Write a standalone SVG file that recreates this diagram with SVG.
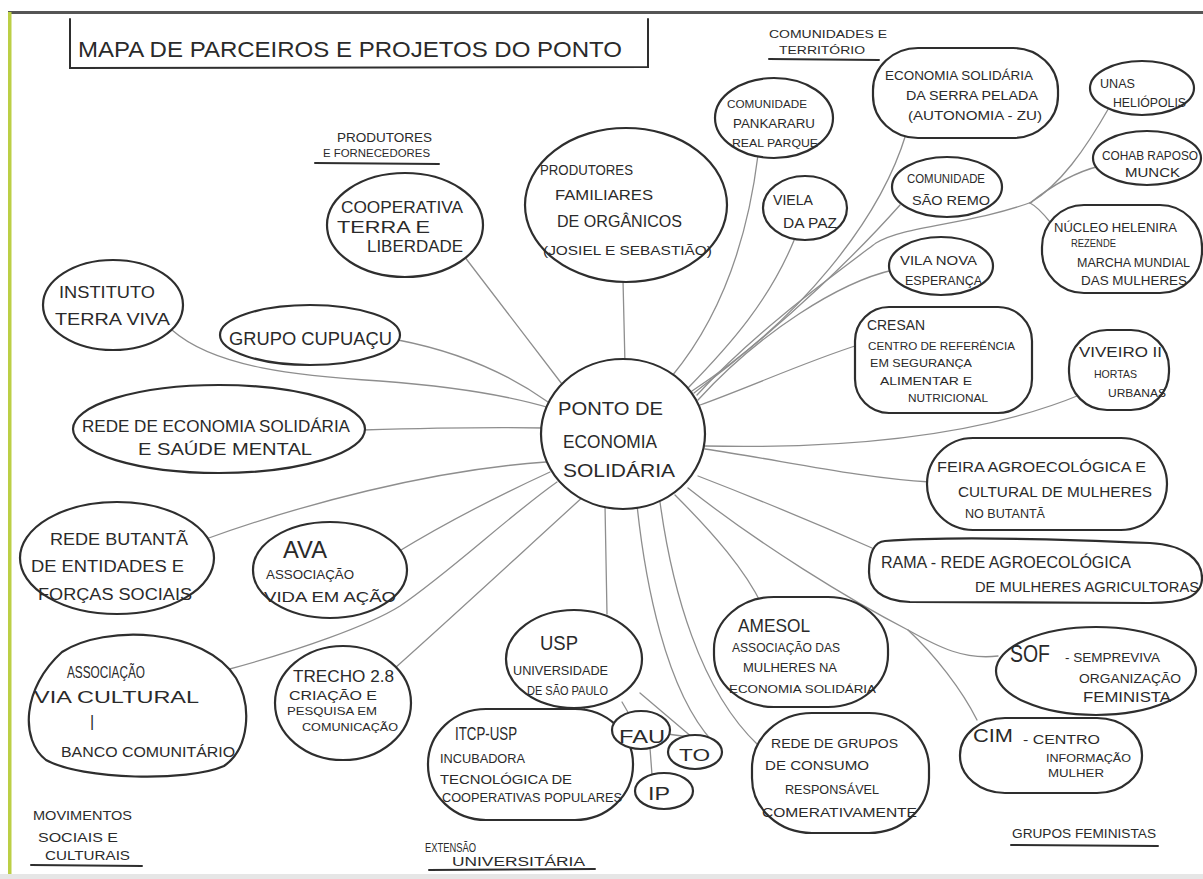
<svg xmlns="http://www.w3.org/2000/svg" width="1203" height="879" viewBox="0 0 1203 879">
<defs>
<style>
.node{fill:#fff;stroke:#2e2e2e;stroke-width:2.2}
.con{fill:none;stroke:#8e8e8e;stroke-width:1.3;stroke-linecap:round}
.t{font-family:"Liberation Sans",Arial,sans-serif;fill:#2a2a2a}
.ul{stroke:#2e2e2e;stroke-width:2;fill:none;stroke-linecap:round}
</style>
</defs>
<rect width="1203" height="879" fill="#fff"/>
<rect x="8" y="11" width="1195" height="3" fill="#555"/>
<rect x="8" y="12" width="3.5" height="862" fill="#bccf45"/>
<rect x="0" y="874" width="1203" height="5" fill="#e6e6e6"/>

<g id="title">
<path class="ul" d="M70,19 L70,68 L648,67 L648,19"/>
<text class="t" x="78" y="57" font-size="22" textLength="544" lengthAdjust="spacingAndGlyphs">MAPA DE PARCEIROS E PROJETOS DO PONTO</text>
</g>

<g id="connectors">
<path class="con" d="M464,256 L565,388"/>
<path class="con" d="M623,280 L625,365"/>
<path class="con" d="M172,330 C215,368 300,376 380,381 C460,387 510,396 550,408"/>
<path class="con" d="M398,340 C460,352 510,375 548,402"/>
<path class="con" d="M363,430 C430,428 490,427 545,428"/>
<path class="con" d="M206,539 C300,505 430,470 546,462"/>
<path class="con" d="M396,553 C450,520 500,495 550,472"/>
<path class="con" d="M226,670 C300,650 370,625 400,606 C450,572 510,515 557,482"/>
<path class="con" d="M395,668 C460,610 530,545 585,495"/>
<path class="con" d="M605,505 L607,614"/>
<path class="con" d="M637,505 C645,580 665,690 713,742"/>
<path class="con" d="M660,502 C672,590 700,690 758,745"/>
<path class="con" d="M675,495 C715,535 745,570 762,605"/>
<path class="con" d="M688,488 C760,545 850,600 908,630 C940,648 965,660 998,656"/>
<path class="con" d="M908,630 C935,655 962,690 977,720"/>
<path class="con" d="M698,476 C760,500 820,525 872,548"/>
<path class="con" d="M705,449 C780,460 860,478 930,482"/>
<path class="con" d="M705,446 C800,448 960,445 1082,394"/>
<path class="con" d="M700,405 C755,385 805,362 858,345"/>
<path class="con" d="M698,400 C760,332 840,282 893,270"/>
<path class="con" d="M697,395 C752,335 820,285 876,243 C905,225 970,225 1032,202"/>
<path class="con" d="M1030,203 C1060,185 1085,150 1110,106"/>
<path class="con" d="M1030,203 C1050,187 1075,172 1100,166"/>
<path class="con" d="M1030,203 C1036,206 1042,212 1050,222"/>
<path class="con" d="M694,393 C790,320 860,250 900,205"/>
<path class="con" d="M692,391 C800,320 880,220 906,134"/>
<path class="con" d="M688,388 C730,345 770,300 795,238"/>
<path class="con" d="M672,376 C710,330 745,260 758,155"/>
<path class="con" d="M586,706 L578,718"/>
<path class="con" d="M622,702 L629,714"/>
<path class="con" d="M640,693 L693,738"/>
<path class="con" d="M667,734 L690,737"/>
<path class="con" d="M650,748 L652,775"/>
</g>

<g id="label-produtores">
<text class="t" x="337" y="142" font-size="13" textLength="95" lengthAdjust="spacingAndGlyphs">PRODUTORES</text>
<text class="t" x="323" y="157" font-size="10" textLength="107" lengthAdjust="spacingAndGlyphs">E FORNECEDORES</text>
<path class="ul" d="M315,163 L439,164"/>
</g>
<g id="label-comunidades">
<text class="t" x="769" y="38" font-size="11" textLength="118" lengthAdjust="spacingAndGlyphs">COMUNIDADES E</text>
<text class="t" x="779" y="54" font-size="11" textLength="86" lengthAdjust="spacingAndGlyphs">TERRITÓRIO</text>
<path class="ul" d="M769,59 L879,60"/>
</g>
<g id="label-movimentos">
<text class="t" x="33" y="820" font-size="12" textLength="99" lengthAdjust="spacingAndGlyphs">MOVIMENTOS</text>
<text class="t" x="38" y="842" font-size="12" textLength="80" lengthAdjust="spacingAndGlyphs">SOCIAIS E</text>
<text class="t" x="45" y="860" font-size="12" textLength="85" lengthAdjust="spacingAndGlyphs">CULTURAIS</text>
<path class="ul" d="M31,865 L142,866"/>
</g>
<g id="label-extensao">
<text class="t" x="425" y="852" font-size="12" textLength="51" lengthAdjust="spacingAndGlyphs">EXTENSÃO</text>
<text class="t" x="452" y="866" font-size="12" textLength="133" lengthAdjust="spacingAndGlyphs">UNIVERSITÁRIA</text>
<path class="ul" d="M429,870 L595,869"/>
</g>
<g id="label-feministas">
<text class="t" x="1012" y="838" font-size="13" textLength="144" lengthAdjust="spacingAndGlyphs">GRUPOS FEMINISTAS</text>
<path class="ul" d="M1011,845 L1158,846"/>
</g>

<g id="n-center">
<ellipse class="node" cx="623" cy="434" rx="82" ry="75"/>
<text class="t" x="558" y="415" font-size="19" textLength="105" lengthAdjust="spacingAndGlyphs">PONTO DE</text>
<text class="t" x="563" y="448" font-size="19" textLength="94" lengthAdjust="spacingAndGlyphs">ECONOMIA</text>
<text class="t" x="563" y="477" font-size="19" textLength="112" lengthAdjust="spacingAndGlyphs">SOLIDÁRIA</text>
</g>

<g id="n-cooperativa">
<ellipse class="node" cx="405" cy="225" rx="78" ry="52"/>
<text class="t" x="341" y="213" font-size="16" textLength="122" lengthAdjust="spacingAndGlyphs">COOPERATIVA</text>
<text class="t" x="337" y="233" font-size="16" textLength="93" lengthAdjust="spacingAndGlyphs">TERRA E</text>
<text class="t" x="367" y="252" font-size="16" textLength="96" lengthAdjust="spacingAndGlyphs">LIBERDADE</text>
</g>

<g id="n-instituto">
<ellipse class="node" cx="113" cy="305" rx="70" ry="45"/>
<text class="t" x="59" y="298" font-size="17" textLength="96" lengthAdjust="spacingAndGlyphs">INSTITUTO</text>
<text class="t" x="55" y="325" font-size="17" textLength="115" lengthAdjust="spacingAndGlyphs">TERRA VIVA</text>
</g>

<g id="n-cupuacu">
<ellipse class="node" cx="310" cy="335" rx="90" ry="30"/>
<text class="t" x="229" y="345" font-size="18" textLength="163" lengthAdjust="spacingAndGlyphs">GRUPO CUPUAÇU</text>
</g>

<g id="n-produtores-familiares">
<ellipse class="node" cx="626" cy="205" rx="101" ry="77"/>
<text class="t" x="540" y="175" font-size="14" textLength="93" lengthAdjust="spacingAndGlyphs">PRODUTORES</text>
<text class="t" x="555" y="200" font-size="15" textLength="98" lengthAdjust="spacingAndGlyphs">FAMILIARES</text>
<text class="t" x="557" y="227" font-size="16" textLength="125" lengthAdjust="spacingAndGlyphs">DE ORGÂNICOS</text>
<text class="t" x="543" y="255" font-size="13" textLength="169" lengthAdjust="spacingAndGlyphs">(JOSIEL E SEBASTIÃO)</text>
</g>

<g id="n-rede-economia">
<ellipse class="node" cx="219" cy="429" rx="146" ry="44"/>
<text class="t" x="82" y="432" font-size="17" textLength="268" lengthAdjust="spacingAndGlyphs">REDE DE ECONOMIA SOLIDÁRIA</text>
<text class="t" x="138" y="455" font-size="17" textLength="174" lengthAdjust="spacingAndGlyphs">E SAÚDE MENTAL</text>
</g>

<g id="n-rede-butanta">
<ellipse class="node" cx="117" cy="558" rx="97" ry="56"/>
<text class="t" x="50" y="545" font-size="16" textLength="138" lengthAdjust="spacingAndGlyphs">REDE BUTANTÃ</text>
<text class="t" x="31" y="572" font-size="16" textLength="153" lengthAdjust="spacingAndGlyphs">DE ENTIDADES E</text>
<text class="t" x="38" y="600" font-size="16" textLength="154" lengthAdjust="spacingAndGlyphs">FORÇAS SOCIAIS</text>
</g>

<g id="n-ava">
<ellipse class="node" cx="330" cy="570" rx="77" ry="48"/>
<text class="t" x="283" y="558" font-size="23" textLength="44" lengthAdjust="spacingAndGlyphs">AVA</text>
<text class="t" x="266" y="579" font-size="12" textLength="88" lengthAdjust="spacingAndGlyphs">ASSOCIAÇÃO</text>
<text class="t" x="264" y="602" font-size="15" textLength="132" lengthAdjust="spacingAndGlyphs">VIDA EM AÇÃO</text>
</g>

<g id="n-via-cultural">
<path class="node" d="M62,652 C105,624 205,628 236,678 C252,705 250,748 224,766 C188,782 82,780 46,760 C20,740 22,688 62,652 Z"/>
<text class="t" x="67" y="678" font-size="16" textLength="78" lengthAdjust="spacingAndGlyphs">ASSOCIAÇÃO</text>
<text class="t" x="34" y="703" font-size="17" textLength="165" lengthAdjust="spacingAndGlyphs">VIA CULTURAL</text>
<text class="t" x="90" y="727" font-size="16">|</text>
<text class="t" x="61" y="757" font-size="14" textLength="174" lengthAdjust="spacingAndGlyphs">BANCO COMUNITÁRIO</text>
</g>

<g id="n-trecho">
<ellipse class="node" cx="343" cy="703" rx="68" ry="57"/>
<text class="t" x="293" y="682" font-size="16" textLength="101" lengthAdjust="spacingAndGlyphs">TRECHO 2.8</text>
<text class="t" x="289" y="700" font-size="12" textLength="88" lengthAdjust="spacingAndGlyphs">CRIAÇÃO E</text>
<text class="t" x="287" y="715" font-size="11" textLength="90" lengthAdjust="spacingAndGlyphs">PESQUISA EM</text>
<text class="t" x="302" y="731" font-size="11" textLength="96" lengthAdjust="spacingAndGlyphs">COMUNICAÇÃO</text>
</g>

<g id="n-usp">
<ellipse class="node" cx="574" cy="659" rx="68" ry="49"/>
<text class="t" x="540" y="650" font-size="20" textLength="38" lengthAdjust="spacingAndGlyphs">USP</text>
<text class="t" x="513" y="675" font-size="12" textLength="95" lengthAdjust="spacingAndGlyphs">UNIVERSIDADE</text>
<text class="t" x="527" y="695" font-size="12" textLength="81" lengthAdjust="spacingAndGlyphs">DE SÃO PAULO</text>
</g>

<g id="n-itcp">
<rect class="node" x="428" y="709" width="205" height="111" rx="58" ry="55"/>
<text class="t" x="455" y="740" font-size="19" textLength="62" lengthAdjust="spacingAndGlyphs">ITCP-USP</text>
<text class="t" x="440" y="763" font-size="12" textLength="85" lengthAdjust="spacingAndGlyphs">INCUBADORA</text>
<text class="t" x="440" y="784" font-size="12" textLength="132" lengthAdjust="spacingAndGlyphs">TECNOLÓGICA DE</text>
<text class="t" x="442" y="802" font-size="12" textLength="180" lengthAdjust="spacingAndGlyphs">COOPERATIVAS POPULARES</text>
</g>

<g id="n-fau">
<ellipse class="node" cx="641" cy="730" rx="29" ry="19"/>
<text class="t" x="619" y="743" font-size="19" textLength="46" lengthAdjust="spacingAndGlyphs">FAU</text>
</g>
<g id="n-to">
<ellipse class="node" cx="695" cy="752" rx="27" ry="17"/>
<text class="t" x="679" y="761" font-size="16" textLength="31" lengthAdjust="spacingAndGlyphs">TO</text>
</g>
<g id="n-ip">
<ellipse class="node" cx="664" cy="791" rx="29" ry="18"/>
<text class="t" x="648" y="800" font-size="18" textLength="22" lengthAdjust="spacingAndGlyphs">IP</text>
</g>

<g id="n-amesol">
<rect class="node" x="714" y="597" width="174" height="110" rx="60" ry="52"/>
<text class="t" x="738" y="632" font-size="18" textLength="72" lengthAdjust="spacingAndGlyphs">AMESOL</text>
<text class="t" x="732" y="652" font-size="12" textLength="108" lengthAdjust="spacingAndGlyphs">ASSOCIAÇÃO DAS</text>
<text class="t" x="743" y="672" font-size="12" textLength="94" lengthAdjust="spacingAndGlyphs">MULHERES NA</text>
<text class="t" x="729" y="693" font-size="11" textLength="147" lengthAdjust="spacingAndGlyphs">ECONOMIA SOLIDÁRIA</text>
</g>

<g id="n-rede-grupos">
<rect class="node" x="752" y="713" width="177" height="120" rx="60" ry="55"/>
<text class="t" x="771" y="748" font-size="13" textLength="127" lengthAdjust="spacingAndGlyphs">REDE DE GRUPOS</text>
<text class="t" x="765" y="770" font-size="13" textLength="104" lengthAdjust="spacingAndGlyphs">DE CONSUMO</text>
<text class="t" x="785" y="794" font-size="13" textLength="94" lengthAdjust="spacingAndGlyphs">RESPONSÁVEL</text>
<text class="t" x="762" y="817" font-size="13" textLength="155" lengthAdjust="spacingAndGlyphs">COMERATIVAMENTE</text>
</g>

<g id="n-sof">
<ellipse class="node" cx="1096" cy="671" rx="100" ry="44"/>
<text class="t" x="1010" y="662" font-size="23" textLength="40" lengthAdjust="spacingAndGlyphs">SOF</text>
<text class="t" x="1065" y="662" font-size="12" textLength="95" lengthAdjust="spacingAndGlyphs">- SEMPREVIVA</text>
<text class="t" x="1079" y="683" font-size="12" textLength="102" lengthAdjust="spacingAndGlyphs">ORGANIZAÇÃO</text>
<text class="t" x="1083" y="702" font-size="14" textLength="88" lengthAdjust="spacingAndGlyphs">FEMINISTA</text>
</g>

<g id="n-cim">
<rect class="node" x="960" y="718" width="182" height="75" rx="45" ry="37"/>
<text class="t" x="973" y="742" font-size="19" textLength="40" lengthAdjust="spacingAndGlyphs">CIM</text>
<text class="t" x="1023" y="744" font-size="12" textLength="77" lengthAdjust="spacingAndGlyphs">- CENTRO</text>
<text class="t" x="1046" y="762" font-size="11" textLength="85" lengthAdjust="spacingAndGlyphs">INFORMAÇÃO</text>
<text class="t" x="1048" y="777" font-size="11" textLength="56" lengthAdjust="spacingAndGlyphs">MULHER</text>
</g>

<g id="n-rama">
<path class="node" d="M885,541 C950,536 1080,540 1150,543 C1185,545 1202,560 1202,578 C1202,598 1180,603 1150,603 L910,602 C880,601 869,588 869,572 C869,555 873,542 885,541 Z"/>
<text class="t" x="881" y="568" font-size="16" textLength="250" lengthAdjust="spacingAndGlyphs">RAMA - REDE AGROECOLÓGICA</text>
<text class="t" x="975" y="592" font-size="15" textLength="224" lengthAdjust="spacingAndGlyphs">DE MULHERES AGRICULTORAS</text>
</g>

<g id="n-feira">
<rect class="node" x="927" y="438" width="240" height="92" rx="46" ry="46"/>
<text class="t" x="937" y="472" font-size="15" textLength="209" lengthAdjust="spacingAndGlyphs">FEIRA AGROECOLÓGICA E</text>
<text class="t" x="958" y="497" font-size="15" textLength="194" lengthAdjust="spacingAndGlyphs">CULTURAL DE MULHERES</text>
<text class="t" x="965" y="518" font-size="13" textLength="80" lengthAdjust="spacingAndGlyphs">NO BUTANTÃ</text>
</g>

<g id="n-viveiro">
<rect class="node" x="1069" y="330" width="100" height="80" rx="38" ry="38"/>
<text class="t" x="1079" y="357" font-size="14" textLength="83" lengthAdjust="spacingAndGlyphs">VIVEIRO II</text>
<text class="t" x="1094" y="378" font-size="11" textLength="43" lengthAdjust="spacingAndGlyphs">HORTAS</text>
<text class="t" x="1108" y="397" font-size="11" textLength="58" lengthAdjust="spacingAndGlyphs">URBANAS</text>
</g>

<g id="n-cresan">
<rect class="node" x="855" y="307" width="177" height="106" rx="34" ry="34"/>
<text class="t" x="867" y="330" font-size="14" textLength="58" lengthAdjust="spacingAndGlyphs">CRESAN</text>
<text class="t" x="868" y="350" font-size="11" textLength="147" lengthAdjust="spacingAndGlyphs">CENTRO DE REFERÊNCIA</text>
<text class="t" x="870" y="367" font-size="11" textLength="102" lengthAdjust="spacingAndGlyphs">EM SEGURANÇA</text>
<text class="t" x="880" y="385" font-size="10" textLength="92" lengthAdjust="spacingAndGlyphs">ALIMENTAR E</text>
<text class="t" x="908" y="402" font-size="10" textLength="80" lengthAdjust="spacingAndGlyphs">NUTRICIONAL</text>
</g>

<g id="n-vila-nova">
<ellipse class="node" cx="941" cy="266" rx="52" ry="29"/>
<text class="t" x="900" y="265" font-size="13" textLength="77" lengthAdjust="spacingAndGlyphs">VILA NOVA</text>
<text class="t" x="905" y="285" font-size="12" textLength="77" lengthAdjust="spacingAndGlyphs">ESPERANÇA</text>
</g>

<g id="n-sao-remo">
<ellipse class="node" cx="947" cy="187" rx="55" ry="30"/>
<text class="t" x="907" y="183" font-size="12" textLength="78" lengthAdjust="spacingAndGlyphs">COMUNIDADE</text>
<text class="t" x="912" y="205" font-size="13" textLength="78" lengthAdjust="spacingAndGlyphs">SÃO REMO</text>
</g>

<g id="n-viela">
<ellipse class="node" cx="805" cy="208" rx="42" ry="32"/>
<text class="t" x="773" y="205" font-size="14" textLength="40" lengthAdjust="spacingAndGlyphs">VIELA</text>
<text class="t" x="783" y="228" font-size="14" textLength="54" lengthAdjust="spacingAndGlyphs">DA PAZ</text>
</g>

<g id="n-pankararu">
<ellipse class="node" cx="774" cy="118" rx="59" ry="40"/>
<text class="t" x="727" y="108" font-size="11" textLength="80" lengthAdjust="spacingAndGlyphs">COMUNIDADE</text>
<text class="t" x="733" y="128" font-size="12" textLength="82" lengthAdjust="spacingAndGlyphs">PANKARARU</text>
<text class="t" x="732" y="147" font-size="11" textLength="86" lengthAdjust="spacingAndGlyphs">REAL PARQUE</text>
</g>

<g id="n-serra-pelada">
<rect class="node" x="873" y="48" width="185" height="90" rx="45" ry="42"/>
<text class="t" x="885" y="80" font-size="13" textLength="148" lengthAdjust="spacingAndGlyphs">ECONOMIA SOLIDÁRIA</text>
<text class="t" x="906" y="100" font-size="13" textLength="132" lengthAdjust="spacingAndGlyphs">DA SERRA PELADA</text>
<text class="t" x="908" y="120" font-size="13" textLength="134" lengthAdjust="spacingAndGlyphs">(AUTONOMIA - ZU)</text>
</g>

<g id="n-unas">
<ellipse class="node" cx="1142" cy="88" rx="52" ry="27"/>
<text class="t" x="1100" y="88" font-size="12" textLength="35" lengthAdjust="spacingAndGlyphs">UNAS</text>
<text class="t" x="1113" y="107" font-size="13" textLength="73" lengthAdjust="spacingAndGlyphs">HELIÓPOLIS</text>
</g>

<g id="n-cohab">
<ellipse class="node" cx="1147" cy="158" rx="54" ry="27"/>
<text class="t" x="1102" y="160" font-size="12" textLength="96" lengthAdjust="spacingAndGlyphs">COHAB RAPOSO</text>
<text class="t" x="1125" y="177" font-size="13" textLength="55" lengthAdjust="spacingAndGlyphs">MUNCK</text>
</g>

<g id="n-nucleo">
<rect class="node" x="1042" y="205" width="160" height="88" rx="42" ry="42"/>
<text class="t" x="1054" y="232" font-size="12" textLength="123" lengthAdjust="spacingAndGlyphs">NÚCLEO HELENIRA</text>
<text class="t" x="1071" y="247" font-size="10" textLength="45" lengthAdjust="spacingAndGlyphs">REZENDE</text>
<text class="t" x="1077" y="267" font-size="12" textLength="113" lengthAdjust="spacingAndGlyphs">MARCHA MUNDIAL</text>
<text class="t" x="1081" y="285" font-size="12" textLength="106" lengthAdjust="spacingAndGlyphs">DAS MULHERES</text>
</g>
</svg>
